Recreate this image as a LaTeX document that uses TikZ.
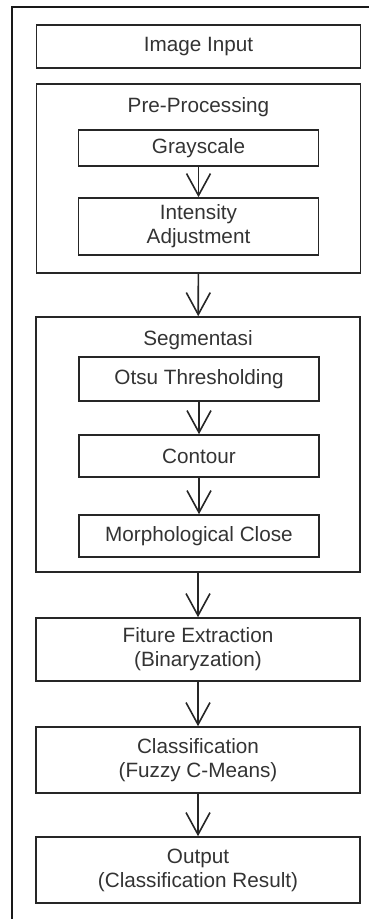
\documentclass[tikz,border=0pt]{standalone}
\usepackage{fontspec}
\setmainfont{Liberation Sans}
\usetikzlibrary{arrows.meta,positioning}
\definecolor{inkgray}{HTML}{333333}

\begin{document}
\begin{tikzpicture}[x=1pt,y=-1pt]
  \tikzset{every node/.style={font=\fontsize{20.7}{24}\selectfont,text=inkgray,align=center},
    stepbox/.style={draw=black!85,line width=1.6pt,inner sep=0pt},
    outerbox/.style={stepbox,minimum width=324pt},
    innerbox/.style={stepbox,minimum width=240pt},
    grouptitle/.style={inner sep=0pt},
    flow/.style={draw=black!85,line width=1.6pt,-{Straight Barb[length=22pt,width=24pt]}}}
  \useasboundingbox (0,0) rectangle (369,919);
  \draw[line width=1.6pt,black!90] (12,919) |- (369,7);
  \node[outerbox,minimum height=43pt] (input) at (198.5,46.5) {Image Input};
  \node[outerbox,minimum height=189pt] (pre) at (198.5,178.5) {};
  \node[grouptitle] (pretitle) at (198.5,107) {Pre-Processing};
  \node[innerbox,minimum height=36pt] (gray) at (198.5,148) {Grayscale};
  \node[innerbox,minimum height=57pt] (intensity) at (198.5,226.5) {Intensity\\Adjustment};
  \node[outerbox,minimum height=255pt] (seg) at (198,444.5) {};
  \node[grouptitle] (segtitle) at (198,340) {Segmentasi};
  \node[innerbox,minimum height=44pt] (otsu) at (199,379) {Otsu Thresholding};
  \node[innerbox,minimum height=42pt] (contour) at (199,456) {Contour};
  \node[innerbox,minimum height=42pt] (morph) at (199,536) {Morphological Close};
  \node[outerbox,minimum height=63pt] (fiture) at (198,649.5) {Fiture Extraction\\(Binaryzation)};
  \node[outerbox,minimum height=66pt] (classif) at (198,760) {Classification\\(Fuzzy C-Means)};
  \node[outerbox,minimum height=66pt] (output) at (198,870) {Output\\(Classification Result)};
  \draw[flow] (gray) -- (intensity);
  \draw[flow] (pre) -- (seg);
  \draw[flow] (otsu) -- (contour);
  \draw[flow] (contour) -- (morph);
  \draw[flow] (seg) -- (fiture);
  \draw[flow] (fiture) -- (classif);
  \draw[flow] (classif) -- (output);
\end{tikzpicture}
\end{document}
